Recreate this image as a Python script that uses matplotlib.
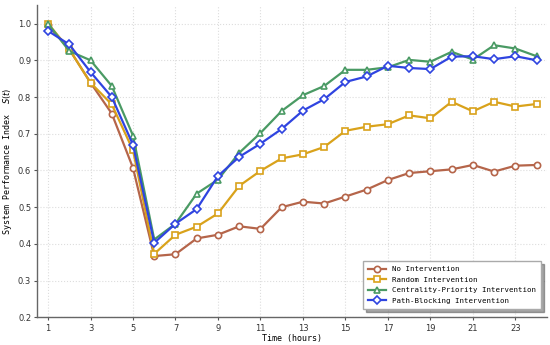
import numpy as np
import matplotlib.pyplot as plt

# Time steps (hours)
hours = np.arange(1, 25)

no_intervention = [0.995, 0.93, 0.839, 0.755, 0.607, 0.367, 0.372, 0.415, 0.425, 0.448,
                   0.441, 0.500, 0.515, 0.510, 0.529, 0.548, 0.574, 0.593, 0.598, 0.603,
                   0.615, 0.597, 0.613, 0.615]
random_intervention = [1.0, 0.93, 0.839, 0.78, 0.655, 0.373, 0.425, 0.447, 0.483, 0.558,
                       0.599, 0.633, 0.644, 0.664, 0.708, 0.719, 0.726, 0.750, 0.742, 0.787,
                       0.761, 0.787, 0.774, 0.781]
centrality_priority = [1.0, 0.925, 0.90, 0.83, 0.695, 0.412, 0.455, 0.537, 0.575, 0.648,
                       0.702, 0.762, 0.805, 0.830, 0.874, 0.874, 0.881, 0.901, 0.896, 0.923,
                       0.902, 0.941, 0.932, 0.911]
path_blocking = [0.98, 0.943, 0.868, 0.80, 0.67, 0.403, 0.455, 0.495, 0.585, 0.637,
                 0.673, 0.713, 0.763, 0.794, 0.841, 0.856, 0.885, 0.879, 0.876, 0.910,
                 0.911, 0.903, 0.911, 0.900]

series = [
    ("No Intervention", no_intervention, "#b5654a", "o", 4.5),
    ("Random Intervention", random_intervention, "#d9a21b", "s", 4.5),
    ("Centrality-Priority Intervention", centrality_priority, "#4a9a64", "^", 5),
    ("Path-Blocking Intervention", path_blocking, "#2f44e0", "D", 4.5),
]

mono = "DejaVu Sans Mono"

fig = plt.figure(figsize=(5.5, 3.45), dpi=100)
ax = fig.add_axes([0.068, 0.08, 0.927, 0.905])

for label, vals, color, marker, ms in series:
    ax.plot(hours, vals, color=color, marker=marker, markersize=ms, linewidth=1.6,
            markerfacecolor="white", markeredgecolor=color, markeredgewidth=1.2,
            label=label)

ax.set_xlim(0.5, 24.5)
ax.set_ylim(0.2, 1.05)
ax.set_xticks(np.arange(1, 24, 2))
ax.set_yticks(np.arange(0.2, 1.01, 0.1))
ax.tick_params(labelsize=6, length=2.5, pad=2, color="#555555", labelcolor="#333333")
ax.grid(True, linestyle=":", color="#dddddd", linewidth=0.8)

for side in ["top", "right"]:
    ax.spines[side].set_visible(False)
for side in ["left", "bottom"]:
    ax.spines[side].set_color("#666666")
    ax.spines[side].set_linewidth(1.0)

ax.set_xlabel("Time (hours)", fontsize=6, family=mono, labelpad=1)
ax.set_ylabel("System Performance Index  $S(t)$", fontsize=6, family=mono, labelpad=3)

ax.legend(loc="lower right", prop={"family": mono, "size": 5.3},
          shadow=True, fancybox=False, framealpha=1, edgecolor="#aaaaaa",
          borderpad=0.7, handlelength=2.4, labelspacing=0.6,
          bbox_to_anchor=(0.995, 0.015))

fig.savefig("out.png", dpi=100)
